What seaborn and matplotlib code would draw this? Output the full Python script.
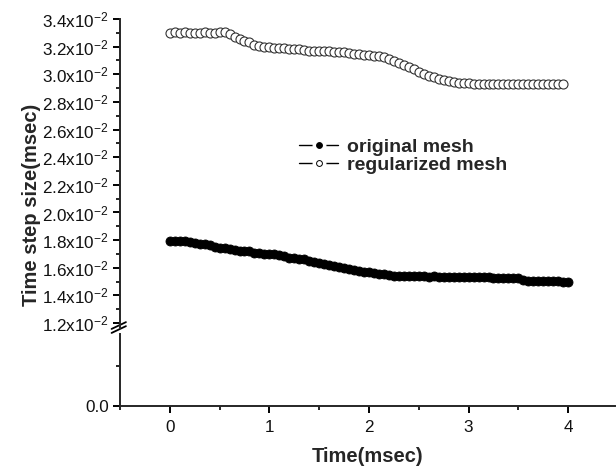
import numpy as np
import pandas as pd
import matplotlib
matplotlib.use("Agg")
import matplotlib.pyplot as plt
import seaborn as sns
from matplotlib.lines import Line2D
from matplotlib.legend_handler import HandlerTuple
from matplotlib.ticker import MultipleLocator, FixedLocator, FuncFormatter

# === Data ===
time_original = np.round(np.arange(0, 4.001, 0.05), 2)
step_original = [
    0.01795, 0.01794, 0.01792, 0.01790, 0.01786, 0.01780, 0.01775, 0.01770, 0.01762, 0.01752,
    0.01745, 0.01740, 0.01733, 0.01728, 0.01724, 0.01722, 0.01718, 0.01710, 0.01705, 0.01702,
    0.01700, 0.01696, 0.01690, 0.01682, 0.01674, 0.01668, 0.01664, 0.01660, 0.01652, 0.01642,
    0.01632, 0.01625, 0.01620, 0.01614, 0.01606, 0.01598, 0.01592, 0.01585, 0.01578, 0.01572,
    0.01568, 0.01564, 0.01558, 0.01552, 0.01545, 0.01542, 0.01541, 0.01540, 0.01539, 0.01540,
    0.01538, 0.01537, 0.01536, 0.01537, 0.01536, 0.01535, 0.01534, 0.01535, 0.01534, 0.01533,
    0.01532, 0.01531, 0.01531, 0.01530, 0.01530, 0.01529, 0.01528, 0.01527, 0.01526, 0.01525,
    0.01524, 0.01512, 0.01507, 0.01506, 0.01505, 0.01504, 0.01503, 0.01502, 0.01501, 0.01500,
    0.01498,
]

time_regular = np.round(np.arange(0, 3.951, 0.05), 2)
step_regular = [
    0.03302, 0.03303, 0.03302, 0.03303, 0.03302, 0.03301, 0.03302, 0.03303, 0.03301, 0.03302,
    0.03303, 0.03306, 0.03290, 0.03270, 0.03255, 0.03243, 0.03230, 0.03212, 0.03205, 0.03200,
    0.03196, 0.03193, 0.03190, 0.03188, 0.03185, 0.03183, 0.03180, 0.03176, 0.03172, 0.03170,
    0.03168, 0.03166, 0.03165, 0.03164, 0.03162, 0.03160, 0.03155, 0.03150, 0.03145, 0.03141,
    0.03138, 0.03134, 0.03130, 0.03124, 0.03110, 0.03095, 0.03080, 0.03068, 0.03056, 0.03040,
    0.03015, 0.03000, 0.02990, 0.02978, 0.02966, 0.02957, 0.02950, 0.02945, 0.02940, 0.02937,
    0.02935, 0.02933, 0.02932, 0.02932, 0.02931, 0.02931, 0.02930, 0.02930, 0.02930, 0.02930,
    0.02930, 0.02929, 0.02929, 0.02929, 0.02929, 0.02929, 0.02929, 0.02929, 0.02929, 0.02929,
]

x_ticks = [0, 1, 2, 3, 4]
series_labels = ["original mesh", "regularized mesh"]

# === Style ===
sns.set_style("ticks")
plt.rcParams["font.family"] = ["Liberation Sans", "DejaVu Sans"]
plt.rcParams["mathtext.fontset"] = "custom"
plt.rcParams["mathtext.rm"] = "Liberation Sans"
plt.rcParams["mathtext.it"] = "Liberation Sans:italic"
plt.rcParams["mathtext.bf"] = "Liberation Sans:bold"

fig = plt.figure(figsize=(6.16, 4.70), dpi=100)
W, H = 616, 470
left, right = 120, 615
ax_top = fig.add_axes([left / W, 1 - 328 / H, (right - left) / W, (328 - 19) / H])
ax_bot = fig.add_axes([left / W, 1 - 406 / H, (right - left) / W, (406 - 334) / H])

df_orig = pd.DataFrame({"time": time_original, "step": step_original})
df_reg = pd.DataFrame({"time": time_regular, "step": step_regular})

sns.lineplot(data=df_orig, x="time", y="step", ax=ax_top, color="black", lw=1,
             marker="o", markersize=6.5, markerfacecolor="black",
             markeredgecolor="black", markeredgewidth=0.6, legend=False)
sns.lineplot(data=df_reg, x="time", y="step", ax=ax_top, color="black", lw=1,
             marker="o", markersize=6.5, markerfacecolor="white",
             markeredgecolor="#333333", markeredgewidth=0.8, legend=False)

xlim = (-0.5, 4.47)
ax_top.set_xlim(*xlim)
ax_bot.set_xlim(*xlim)
ax_top.set_ylim(0.01164, 0.034)
ax_bot.set_ylim(0, 0.005)

# upper axis
ax_top.yaxis.set_major_locator(MultipleLocator(0.002))
ax_top.yaxis.set_minor_locator(MultipleLocator(0.001))
ax_top.yaxis.set_major_formatter(FuncFormatter(lambda v, p: f"{v * 100:.1f}x10$^{{-2}}$"))
ax_top.set_xticks([])
for s in ["top", "right", "bottom"]:
    ax_top.spines[s].set_visible(False)

# lower axis
ax_bot.yaxis.set_major_locator(FixedLocator([0.0]))
ax_bot.yaxis.set_minor_locator(FixedLocator([0.0028]))
ax_bot.set_yticklabels(["0.0"])
ax_bot.set_xticks(x_ticks)
ax_bot.xaxis.set_minor_locator(MultipleLocator(0.5))
for s in ["top", "right"]:
    ax_bot.spines[s].set_visible(False)

for ax in (ax_top, ax_bot):
    ax.spines["left"].set_linewidth(1.4)
    ax.spines["bottom"].set_linewidth(1.4)
    ax.tick_params(which="major", length=5, width=1.4, labelsize=12.3, pad=3,
                   color="black", labelcolor="#111111")
    ax.tick_params(which="minor", length=2.8, width=1.2, color="black")
    ax.set_xlabel("")
    ax.set_ylabel("")
ax_bot.tick_params(axis="x", which="major", pad=5)

ax_bot.set_xlabel("Time(msec)", fontsize=14.5, fontweight="bold", labelpad=9)
ax_top.set_ylabel("Time step size(msec)", fontsize=14.5, fontweight="bold")
ax_top.yaxis.set_label_coords(-0.16, 0.40)

# axis break marks
for dy in (0.0, 0.013):
    ax_top.plot([-0.017, 0.012], [-0.016 + dy, 0.006 + dy], transform=ax_top.transAxes,
                color="black", lw=1.3, clip_on=False)

# legend: line - marker - line, with a small gap round the marker
handles = []
for face in ("black", "white"):
    line_h = Line2D([], [], color="black", lw=1)
    gap_h = Line2D([], [], ls="none", marker="o", markersize=9,
                   markerfacecolor="white", markeredgecolor="white")
    mark_h = Line2D([], [], ls="none", marker="o", markersize=4.2,
                    markerfacecolor=face, markeredgecolor="black", markeredgewidth=0.7)
    handles.append((line_h, gap_h, mark_h))

leg = ax_top.legend(handles, series_labels, handler_map={tuple: HandlerTuple(ndivide=1)},
                    loc="upper left", bbox_to_anchor=(0.362, 0.615), frameon=False,
                    handlelength=2.0, handletextpad=0.45, labelspacing=0.05,
                    borderaxespad=0, borderpad=0,
                    prop={"weight": "bold", "size": 14})

fig.savefig("out.png", dpi=100)
